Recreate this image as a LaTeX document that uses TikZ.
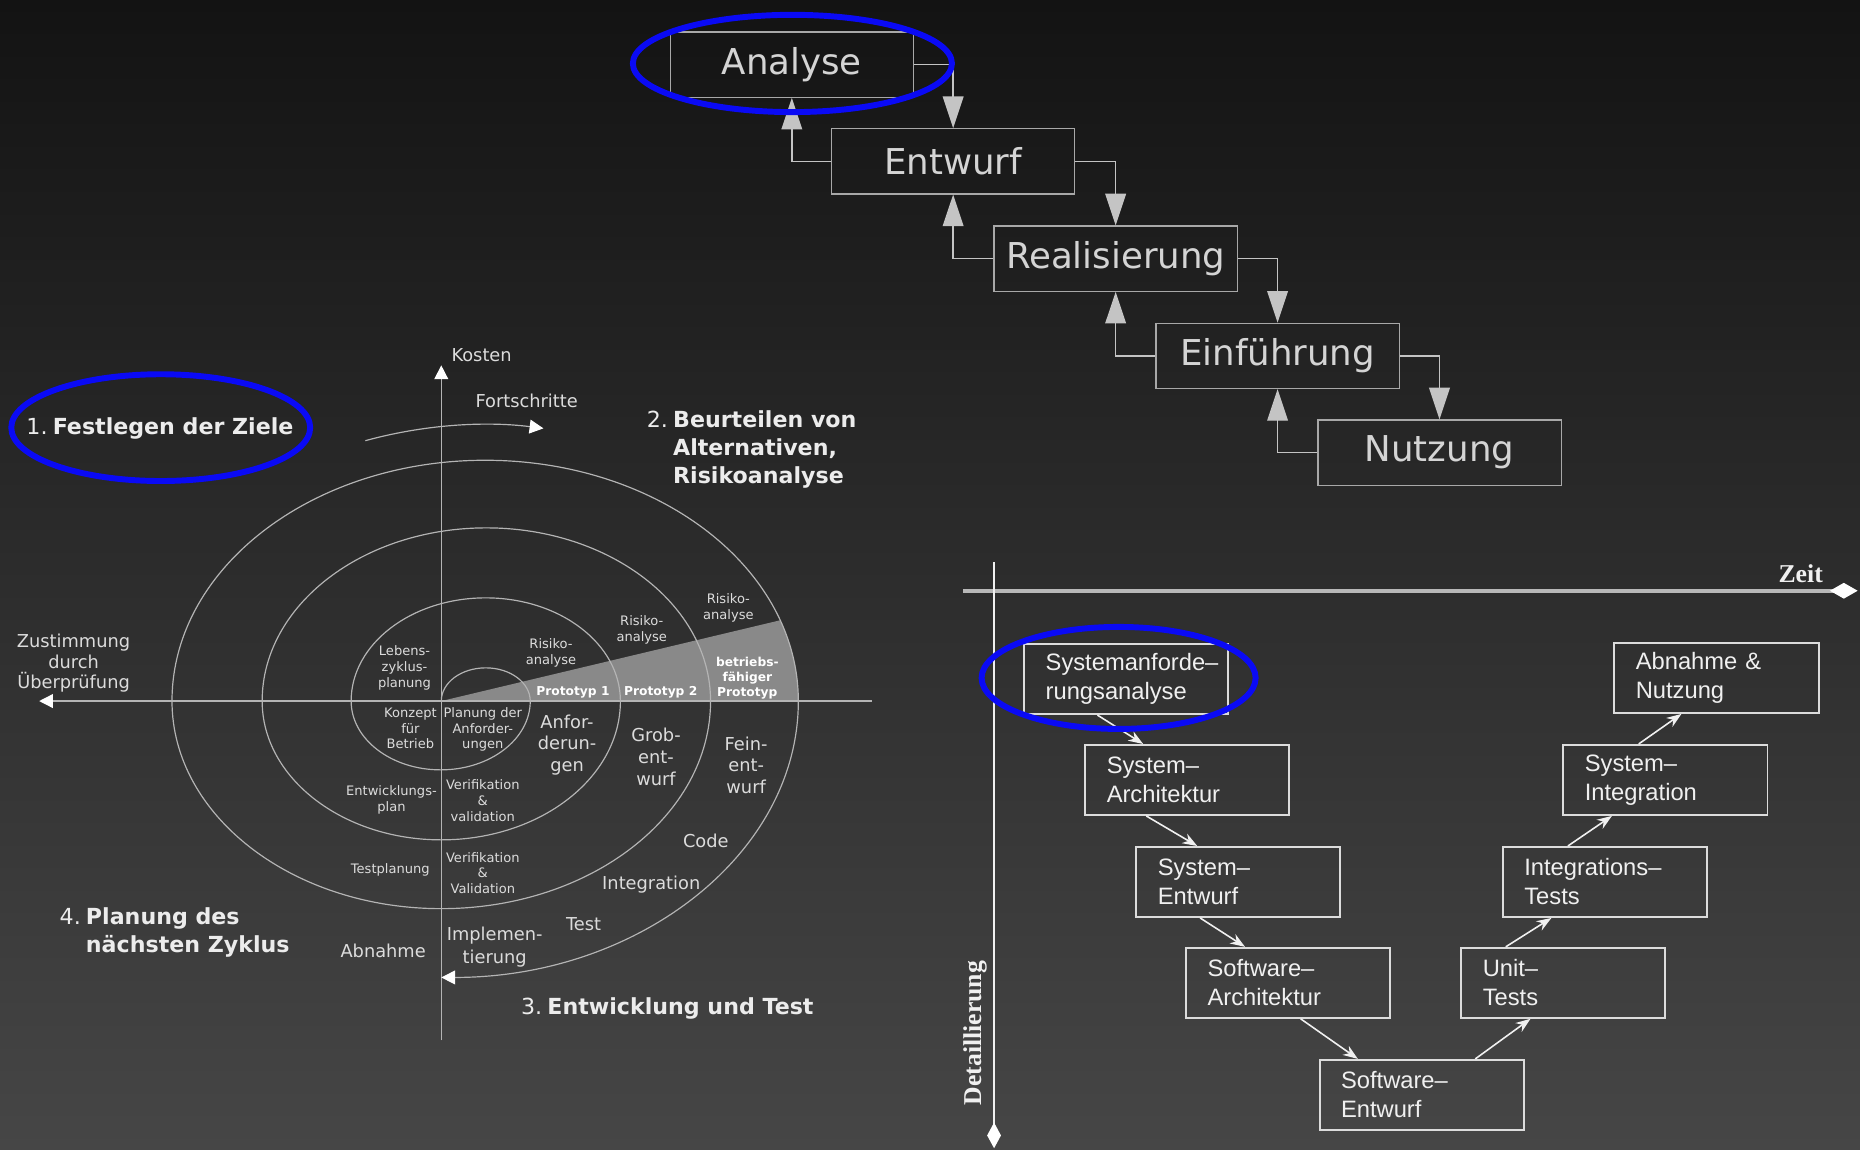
\documentclass[tikz,border=0pt]{standalone}
\usepackage{fontspec}
\setmainfont{DejaVu Sans}
\newfontfamily\vfont{Liberation Sans}
\newfontfamily\serfont{Liberation Serif}
\usetikzlibrary{arrows.meta,calc}
\definecolor{bgtop}{HTML}{131313}
\definecolor{bgbot}{HTML}{464646}
\definecolor{wfline}{HTML}{A8A8A8}
\definecolor{wftext}{HTML}{D4D4D4}
\definecolor{wfarrow}{HTML}{C4C4C4}
\definecolor{spline}{HTML}{B4B4B4}
\definecolor{sptext}{HTML}{DCDCDC}
\definecolor{headtext}{HTML}{ECECEC}
\definecolor{wedgegray}{HTML}{898989}
\definecolor{vline}{HTML}{DCDCDC}
\definecolor{vtext}{HTML}{F0F0F0}
\definecolor{zeitgray}{HTML}{B8B8B8}
\definecolor{hiblue}{HTML}{0A0AF5}
\newcommand\numgap{\hspace{2.6pt}}
\begin{document}
\begin{tikzpicture}[x=0.6pt,y=-0.6pt,
  wfbox/.style={draw=wfline, line width=0.6pt, minimum width=123pt, minimum height=33pt, inner sep=0pt, text=wftext, font=\fontsize{18}{21}\selectfont},
  wfarr/.style={draw=wfarrow, line width=0.7pt, -{Triangle[length=16pt,width=10.5pt]}},
  vbox/.style={draw=vline, line width=1pt, minimum height=35.4pt, text width=81.6pt, inner xsep=10.8pt, inner ysep=0pt, align=left, text=vtext, font=\vfont\fontsize{12}{14.7}\selectfont, execute at begin node={\hyphenpenalty=10000\exhyphenpenalty=10000}},
  vtxt/.style={yshift=-1.6pt},
  varr/.style={draw=vtext, line width=0.8pt, -{Stealth[length=7.5pt,width=5.5pt]}},
  spir/.style={draw=spline, line width=0.6pt},
  spax/.style={draw=spline, line width=0.7pt, -{Triangle[length=7pt,width=7pt,color=white]}},
  sml/.style={text=sptext, font=\fontsize{6.6}{8}\selectfont, align=center, inner sep=0pt},
  med/.style={text=sptext, font=\fontsize{9}{11}\selectfont, align=center, inner sep=0pt},
  proto/.style={text=white, font=\bfseries\fontsize{6.2}{7.5}\selectfont, align=center, inner sep=0pt},
  head/.style={text=headtext, font=\fontsize{11.2}{14.1}\selectfont, align=left, inner sep=0pt, anchor=west},
  hiell/.style={draw=hiblue, line width=3pt},
  axlab/.style={text=vtext, font=\serfont\bfseries\fontsize{13}{15}\selectfont, inner sep=0pt}
]
\useasboundingbox (0,0) rectangle (1568,969);
\shade[top color=bgtop, bottom color=bgbot] (0,0) rectangle (1568,969);

% ---------------- Waterfall ----------------
\node[wfbox] (ana) at (667.5,54.5) {Analyse};
\node[wfbox] (ent) at (803.5,136) {Entwurf};
\node[wfbox] (rea) at (940.5,218) {Realisierung};
\node[wfbox] (ein) at (1077,300) {Einführung};
\node[wfbox] (nut) at (1213.5,381.5) {Nutzung};
\draw[wfarr] (ana.east) -| (ent.north);
\draw[wfarr] (ent.west) -| (ana.south);
\draw[wfarr] (ent.east) -| (rea.north);
\draw[wfarr] (rea.west) -| (ent.south);
\draw[wfarr] (rea.east) -| (ein.north);
\draw[wfarr] (ein.west) -| (rea.south);
\draw[wfarr] (ein.east) -| (nut.north);
\draw[wfarr] (nut.west) -| (ein.south);

% ---------------- Spiral ----------------
\fill[wedgegray] (372,591) -- (657.7,522.9) arc[start angle=340.4,end angle=360,x radius=264,y radius=203] -- cycle;
\coordinate (kb) at (372,877);
\coordinate (kt) at (372,308);
\coordinate (hr) at (735,591);
\coordinate (hl) at (33,591);
\draw[spax] (kb) -- (kt);
\draw[spax] (hr) -- (hl);
\draw[spir, -{Triangle[length=7pt,width=7pt,color=white]}] (372,591)
  arc[start angle=180,end angle=360,x radius=37.5,y radius=28]
  arc[start angle=0,end angle=180,x radius=75.5,y radius=58]
  arc[start angle=180,end angle=360,x radius=113.5,y radius=87]
  arc[start angle=0,end angle=180,x radius=151,y radius=117]
  arc[start angle=180,end angle=360,x radius=189,y radius=146]
  arc[start angle=0,end angle=180,x radius=227,y radius=175]
  arc[start angle=180,end angle=360,x radius=264,y radius=203]
  arc[start angle=0,end angle=90,x radius=301,y radius=233];
\draw[spir, -{Triangle[length=7pt,width=7pt,color=white]}] (308,371.5)
  arc[start angle=250.4,end angle=279.4,x radius=301,y radius=233];

\node[med] (kos) at (406,299) {Kosten};
\node[med] (fort) at (444,338) {Fortschritte};
\node[text=sptext, font=\fontsize{9}{10.5}\selectfont, align=center, inner sep=0pt] (zust) at (62,559) {Zustimmung\\durch\\Überprüfung};
\node[sml] (lz) at (341,563) {Lebens-\\zyklus-\\planung};
\node[sml] (r1) at (464.5,550.5) {Risiko-\\analyse};
\node[sml] (r2) at (541,531) {Risiko-\\analyse};
\node[sml] (r3) at (614,512.5) {Risiko-\\analyse};
\node[proto] (p1) at (483,584) {Prototyp 1};
\node[proto] (p2) at (557,584) {Prototyp 2};
\node[proto] (bp) at (630,571.5) {betriebs-\\fähiger\\Prototyp};
\node[sml] (kf) at (346,614) {Konzept\\für\\Betrieb};
\node[sml] (pa) at (407,615) {Planung der\\Anforder-\\ungen};
\node[med] (anf) at (478,628) {Anfor-\\derun-\\gen};
\node[med] (grob) at (553,638) {Grob-\\ent-\\wurf};
\node[med] (fein) at (629,645) {Fein-\\ent-\\wurf};
\node[sml] (ep) at (330,674.5) {Entwicklungs-\\plan};
\node[sml] (vv1) at (407,675) {Verifikation\\\&\\validation};
\node[med] (code) at (595,709) {Code};
\node[sml] (tp) at (329,733) {Testplanung};
\node[sml] (vv2) at (407,736) {Verifikation\\\&\\Validation};
\node[med] (integ) at (549,746) {Integration};
\node[med] (test) at (492,779) {Test};
\node[text=sptext, font=\fontsize{9}{11.4}\selectfont, align=center, inner sep=0pt] (impl) at (417,798.5) {Implemen-\\tierung};
\node[med] (abn) at (323,802) {Abnahme};

\node[head] (h1) at (22,361) {1.\numgap\textbf{Festlegen der Ziele}};
\node[head] (h2) at (545,379) {2.\numgap\textbf{Beurteilen von}\\\phantom{2.}\numgap\textbf{Alternativen,}\\\phantom{2.}\numgap\textbf{Risikoanalyse}};
\node[head] (h3) at (439,850) {3.\numgap\textbf{Entwicklung und Test}};
\node[head] (h4) at (50,786) {4.\numgap\textbf{Planung des}\\\phantom{4.}\numgap\textbf{nächsten Zyklus}};

% ---------------- V-Modell ----------------
\coordinate (zl) at (812,498);
\coordinate (zr) at (1566,498);
\draw[draw=zeitgray, line width=1.8pt, -{Diamond[length=14pt,width=8pt,color=white]}] (zl) -- (zr);
\coordinate (vt) at (838,474);
\coordinate (vb) at (838,968);
\draw[draw=vtext, line width=0.9pt, -{Diamond[length=13pt,width=7pt,color=white]}] (vt) -- (vb);
\node[axlab] (zeit) at (1518,484) {Zeit};
\node[axlab, rotate=90] (det) at (822,871) {Detaillierung};

\node[vbox] (sa) at (949.5,572.5) {Systemanforde–\\rungsanalyse};
\node[vbox] (sar) at (1001,657.5) {System–\\Architektur};
\node[vbox] (se) at (1044,743.5) {System–\\Entwurf};
\node[vbox] (swa) at (1086,828.5) {Software–\\Architektur};
\node[vbox] (swe) at (1198.5,923) {Software–\\Entwurf};
\node[vbox] (ut) at (1318,828.5) {Unit–\\Tests};
\node[vbox] (it) at (1353,743.5) {Integrations–\\Tests};
\node[vbox] (si) at (1404,657.5) {System–\\Integration};
\node[vbox] (ab) at (1447,571.5) {Abnahme \&\\Nutzung};

\draw[varr] ($(sa.south west)!0.36!(sa.south east)$) -- ($(sar.north west)!0.285!(sar.north east)$);
\draw[varr] ($(sar.south west)!0.30!(sar.south east)$) -- ($(se.north west)!0.30!(se.north east)$);
\draw[varr] ($(se.south west)!0.314!(se.south east)$) -- ($(swa.north west)!0.29!(swa.north east)$);
\draw[varr] ($(swa.south west)!0.56!(swa.south east)$) -- ($(swe.north west)!0.19!(swe.north east)$);
\draw[varr] ($(swe.north west)!0.76!(swe.north east)$) -- ($(ut.south west)!0.34!(ut.south east)$);
\draw[varr] ($(ut.north west)!0.22!(ut.north east)$) -- ($(it.south west)!0.24!(it.south east)$);
\draw[varr] ($(it.north west)!0.32!(it.north east)$) -- ($(si.south west)!0.24!(si.south east)$);
\draw[varr] ($(si.north west)!0.37!(si.north east)$) -- ($(ab.south west)!0.33!(ab.south east)$);

% ---------------- Highlights ----------------
\draw[hiell] (668,53.5) ellipse[x radius=134.5, y radius=41];
\draw[hiell] (135.5,360.5) ellipse[x radius=126, y radius=45];
\draw[hiell] (943,571.5) ellipse[x radius=115.5, y radius=43];
\end{tikzpicture}
\end{document}
